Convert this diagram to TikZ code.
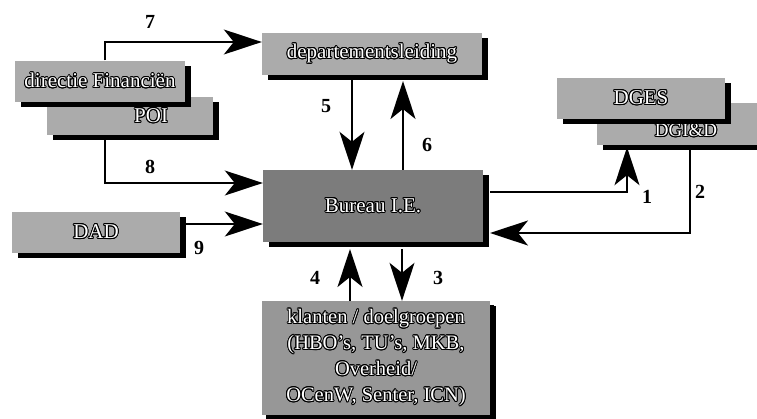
\documentclass[tikz,border=0pt]{standalone}
\usepackage{fontspec}
\setmainfont{Liberation Serif}
\usepackage{contour}
\contourlength{0.9pt}
\contournumber{16}
\definecolor{boxgray}{HTML}{ABABAB}
\definecolor{midgray}{HTML}{979797}
\definecolor{darkgray}{HTML}{7C7C7C}
\usetikzlibrary{arrows.meta, shadows, positioning}
\tikzset{
	graybox/.style={fill=boxgray, inner sep=0pt, minimum height=41pt,
			font=\fontsize{21}{24}\selectfont\color{white},
			drop shadow={shadow xshift=6pt, shadow yshift=-5pt, fill=black, opacity=1}}
}
\tikzset{
	flowarrow/.style={line width=1.6pt, -{Stealth[length=38pt, width=25pt, inset=10pt]}}
}
\tikzset{
	numlabel/.style={font=\fontsize{20}{22}\selectfont\bfseries}
}
\newcommand{\wtext}[1]{\contour{black}{#1}}

\begin{document}
\begin{tikzpicture}[x=1pt, y=-1pt]

	\useasboundingbox (0,0) rectangle (757,418);

	% boxes
	\node[graybox, minimum width=220pt, minimum height=42pt] (dep) at (372,54) {\wtext{departementsleiding}};
	\node[graybox, fill=darkgray, minimum width=220pt, minimum height=72pt] (bur) at (373,206) {\wtext{Bureau I.E.}};
	\node[graybox, fill=midgray, minimum width=228pt, minimum height=114pt, align=center,
		font=\fontsize{20.5}{26}\selectfont\color{white},
		drop shadow={shadow xshift=4pt, shadow yshift=-4pt, fill=black, opacity=1}] (kla) at (376,358)
		{\wtext{klanten / doelgroepen}\\ \wtext{(HBO's, TU's, MKB,}\\ \wtext{Overheid/}\\ \wtext{OCenW, Senter, ICN)}};

	\node[graybox, minimum width=166pt, minimum height=38pt, text width=76pt, align=right] (poi) at (130,116) {\wtext{POI}};
	\node[graybox, minimum width=170pt] (dirfin) at (100,81) {\wtext{directie Financiën}};

	\node[graybox, minimum width=178pt, minimum height=42pt, text height=25pt, text depth=0pt,
		font=\fontsize{19}{20}\selectfont\color{white}] (dgid) at (686,124) {\wtext{DGI\&D}};
	\node[graybox, minimum width=168pt] (dges) at (641,98) {\wtext{DGES}};

	\node[graybox, minimum width=168pt] (dad) at (96,232) {\wtext{DAD}};

	% bends
	\coordinate (c7) at (105,42);
	\coordinate (c8) at (105,183);
	\coordinate (c9) at (185,224);
	\coordinate (c1a) at (490,192);
	\coordinate (c1) at (627,192);
	\coordinate (c2) at (690,233);
	\coordinate (c2e) at (490,233);
	\coordinate (c5) at (352,80);
	\coordinate (c6) at (403,81);
	\coordinate (c4) at (350,249);
	\coordinate (c3) at (402,249);

	% connectors
	\draw[flowarrow] (dirfin.north -| c7) -- (c7) -- (c7 -| dep.west);
	\draw[flowarrow] (poi.south -| c8) -- (c8) -- (c8 -| bur.west);
	\draw[flowarrow] (c9) -- (c9 -| bur.west);
	\draw[flowarrow] (c1a) -- (c1) -- ([yshift=-2pt]c1 |- dgid.south);
	\draw[flowarrow] ([yshift=-2pt]dgid.south -| c2) -- (c2) -- (c2e);
	\draw[flowarrow] (c5) -- (c5 |- bur.north);
	\draw[flowarrow] (c6 |- bur.north) -- (c6);
	\draw[flowarrow] (c4 |- kla.north) -- (c4);
	\draw[flowarrow] (c3) -- (c3 |- kla.north);

	% numbers
	\node[numlabel] (l1) at (647,197) {1};
	\node[numlabel] (l2) at (700,192) {2};
	\node[numlabel] (l3) at (438,278) {3};
	\node[numlabel] (l4) at (315,278) {4};
	\node[numlabel] (l5) at (326,106) {5};
	\node[numlabel] (l6) at (427,145) {6};
	\node[numlabel] (l7) at (150,22) {7};
	\node[numlabel] (l8) at (150,167) {8};
	\node[numlabel] (l9) at (199,248) {9};

\end{tikzpicture}
\end{document}
